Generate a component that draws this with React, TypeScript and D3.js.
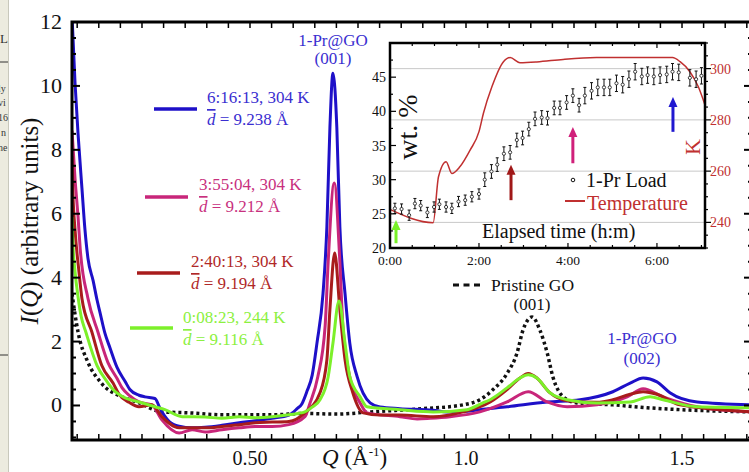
import { useEffect, useRef } from "react";
import * as d3 from "d3";

const W = 749;
const H = 472;
const FONT = "'Liberation Serif', 'Times New Roman', serif";

// main pattern, [Q (1/A), I(Q)]
const run0616 = [[0.088,12.2],[0.095,10.1],[0.102,8.5],[0.111,6.8],[0.118,5.5],[0.125,4.6],[0.137,3.9],[0.146,3.3],[0.153,2.9],[0.164,2.27],[0.176,1.8],[0.192,1.2],[0.211,0.75],[0.222,0.5],[0.243,0.32],[0.257,0.27],[0.280,0.22],[0.292,-0.1],[0.313,-0.5],[0.336,-0.65],[0.366,-0.7],[0.396,-0.68],[0.435,-0.62],[0.475,-0.54],[0.512,-0.48],[0.551,-0.4],[0.590,-0.3],[0.609,-0.1],[0.620,0.05],[0.632,0.45],[0.644,0.95],[0.655,1.95],[0.669,3.5],[0.678,5.6],[0.685,8.7],[0.692,10.4],[0.701,8.7],[0.708,5.6],[0.720,3.5],[0.731,1.95],[0.748,0.9],[0.778,0.08],[0.801,-0.05],[0.847,-0.1],[0.924,-0.15],[0.956,-0.2],[1.002,-0.18],[1.032,-0.13],[1.095,-0.04],[1.188,0.11],[1.264,0.18],[1.340,0.43],[1.380,0.7],[1.410,0.86],[1.442,0.74],[1.472,0.4],[1.535,0.11],[1.662,0.02]];
const run0355 = [[0.088,8.6],[0.095,7.1],[0.102,5.9],[0.107,4.9],[0.125,3.35],[0.148,2.3],[0.171,1.35],[0.192,0.85],[0.204,0.55],[0.222,0.3],[0.243,0.11],[0.273,0.02],[0.296,-0.45],[0.336,-0.86],[0.366,-0.76],[0.396,-0.83],[0.435,-0.76],[0.475,-0.7],[0.512,-0.66],[0.551,-0.66],[0.590,-0.6],[0.627,-0.35],[0.639,0.08],[0.657,0.9],[0.674,2.5],[0.681,4.5],[0.695,6.96],[0.708,4.5],[0.715,2.5],[0.731,0.9],[0.755,0.08],[0.771,-0.23],[0.847,-0.35],[0.887,-0.42],[0.917,-0.4],[0.963,-0.35],[1.032,-0.2],[1.095,0.11],[1.144,0.43],[1.188,0.11],[1.234,-0.04],[1.303,0.02],[1.373,0.27],[1.410,0.52],[1.456,0.27],[1.535,-0.04],[1.662,-0.2]];
const run0240 = [[0.088,7.8],[0.090,6.7],[0.095,5.5],[0.104,4.2],[0.111,3.35],[0.134,2.3],[0.157,1.25],[0.183,0.7],[0.197,0.35],[0.220,0.1],[0.243,-0.04],[0.273,0.02],[0.296,-0.35],[0.336,-0.7],[0.396,-0.7],[0.435,-0.66],[0.475,-0.6],[0.512,-0.54],[0.551,-0.52],[0.590,-0.5],[0.627,-0.23],[0.662,0.4],[0.678,1.43],[0.685,3.0],[0.696,4.77],[0.708,3.0],[0.720,1.43],[0.738,0.4],[0.762,-0.23],[0.801,-0.3],[0.847,-0.3],[0.924,-0.35],[0.993,-0.2],[1.056,0.11],[1.095,0.5],[1.125,0.86],[1.144,1.0],[1.164,0.86],[1.194,0.4],[1.234,0.15],[1.303,0.1],[1.340,0.18],[1.380,0.35],[1.410,0.43],[1.442,0.35],[1.495,0.02],[1.662,-0.2]];
const run0008 = [[0.088,5.9],[0.090,5.1],[0.095,4.2],[0.102,3.4],[0.109,2.8],[0.120,2.3],[0.146,1.25],[0.169,0.75],[0.183,0.5],[0.211,0.24],[0.243,0.11],[0.280,-0.04],[0.303,-0.13],[0.343,-0.35],[0.396,-0.36],[0.435,-0.4],[0.475,-0.35],[0.512,-0.38],[0.551,-0.35],[0.590,-0.29],[0.627,-0.2],[0.644,-0.05],[0.662,0.18],[0.681,0.9],[0.692,1.95],[0.706,3.27],[0.720,1.95],[0.731,0.9],[0.755,0.27],[0.771,-0.04],[0.847,-0.13],[0.924,-0.2],[1.002,-0.13],[1.039,0.08],[1.056,0.18],[1.095,0.55],[1.125,0.86],[1.144,0.96],[1.164,0.86],[1.194,0.4],[1.234,0.18],[1.303,0.08],[1.380,0.11],[1.426,0.27],[1.456,0.18],[1.535,-0.04],[1.662,-0.07]];
const pristineGO = [[0.088,3.5],[0.095,2.85],[0.102,2.3],[0.125,1.35],[0.153,0.75],[0.164,0.58],[0.183,0.4],[0.204,0.27],[0.243,0.08],[0.296,-0.2],[0.359,-0.23],[0.435,-0.29],[0.551,-0.29],[0.627,-0.25],[0.700,-0.27],[0.780,-0.2],[0.900,-0.1],[0.993,0.02],[1.032,0.18],[1.062,0.49],[1.095,1.0],[1.118,1.64],[1.132,2.36],[1.153,2.77],[1.171,2.36],[1.188,1.64],[1.201,0.9],[1.225,0.27],[1.257,0.08],[1.340,0.02],[1.419,-0.07],[1.495,-0.13],[1.662,-0.2]];

const runs = [
  { data: run0616, color: "#1e10c8", text: "#3a2ed0", label: "6:16:13, 304 K", d: "9.238" },
  { data: run0355, color: "#c8267a", text: "#c8307e", label: "3:55:04, 304 K", d: "9.212" },
  { data: run0240, color: "#a81c1c", text: "#b02828", label: "2:40:13, 304 K", d: "9.194" },
  { data: run0008, color: "#7cf02a", text: "#8cf040", label: "0:08:23, 244 K", d: "9.116" },
];
// legend anchor per run: [lineX1, lineX2, lineY, textX, baseline1]
const legendPos = [[154, 197, 109, 207, 103], [145, 188, 197, 199, 190], [137, 180, 273, 191, 267], [130, 173, 328, 183, 323]];

const xTickLabels = [[0.5, "0.50"], [1.0, "1.0"], [1.5, "1.5"]];
const yTickLabels = [0, 2, 4, 6, 8, 10, 12];

// inset: 1-Pr loading (h, wt.%) and temperature (h, K)
const loadTime = [0.11,0.26,0.43,0.56,0.69,0.84,0.99,1.11,1.26,1.39,1.54,1.69,1.84,2.00,2.13,2.28,2.41,2.56,2.70,2.85,2.98,3.12,3.26,3.41,3.54,3.69,3.82,3.97,4.11,4.25,4.38,4.53,4.67,4.81,4.94,5.09,5.23,5.37,5.51,5.66,5.79,5.93,6.07,6.22,6.35,6.49,6.74,6.88,7.00];
const loadWt = [25.8,25.7,24.8,26.5,26.2,25.2,26.0,26.4,26.0,25.8,26.8,27.0,27.5,27.9,30.0,31.2,32.2,33.8,34.0,35.8,36.1,37.4,38.9,39.1,39.0,40.5,40.5,41.3,42.3,40.9,42.3,43.0,43.5,43.5,43.5,44.1,43.9,44.7,45.8,45.1,45.3,45.1,45.3,45.4,45.8,45.7,44.9,44.7,45.2];
const loadErr = [0.75,0.75,0.75,0.75,0.75,0.75,0.75,0.75,0.75,0.75,0.75,0.75,0.75,0.75,1.0,1.0,1.0,1.0,1.0,1.0,1.0,1.0,1.0,1.0,1.0,1.0,1.0,1.0,1.0,1.0,1.2,1.2,1.2,1.2,1.2,1.2,1.2,1.2,1.2,1.2,1.2,1.2,1.2,1.2,1.2,1.2,1.2,1.2,1.2];
const tempTime = [0,0.97,1.09,1.26,1.39,1.57,1.80,2.00,2.10,2.29,2.55,2.70,2.92,3.30,3.89,4.64,5.77,6.35,6.52,6.74,6.93,7.08];
const tempK = [245.1,239.9,257.8,263.7,259.1,261.7,268.2,275.4,282.6,292.9,302.7,304.3,302.3,302.6,303.6,304.3,304.3,304.3,302.7,298.8,292.9,285.8];
const arrowTime = [0.135, 2.72, 4.11, 6.36];
const arrowFrom = [20.7, 27.0, 32.4, 37.0];
const arrowTo = [24.1, 32.2, 37.7, 42.1];
const arrowColor = ["#78f028", "#a01818", "#d0207a", "#2018d0"];
const insetTimeLabels = [[0, "0:00"], [2, "2:00"], [4, "4:00"], [6, "6:00"]];
const insetWtLabels = [20, 25, 30, 35, 40, 45];
const insetKLabels = [240, 260, 280, 300];

export default function App() {
  const ref = useRef(null);

  useEffect(() => {
    document.body.style.margin = "0";
    const svg = d3.select(ref.current);
    svg.selectAll("*").remove();
    svg.style("font-family", FONT);

    // cropped page strip on the left
    svg.append("rect").attr("x", 0).attr("y", 0).attr("width", 8).attr("height", H).attr("fill", "#ecebdf");
    svg.append("line").attr("x1", 8.5).attr("x2", 8.5).attr("y1", 0).attr("y2", H).attr("stroke", "#c8c8bc");
    const strip = svg.append("g").style("font-size", "10px").attr("fill", "#333");
    strip.append("text").attr("x", 0).attr("y", 43).style("font-size", "13px").text("L");
    [["ly", 92], ["vi", 106], ["16", 121], ["n", 136], ["ne", 151]].forEach(([t, yy]) => {
      strip.append("text").attr("x", t === "n" ? 1 : -2).attr("y", yy).text(t);
    });
    strip.append("line").attr("x1", 0).attr("x2", 8).attr("y1", 62).attr("y2", 62).attr("stroke", "#333");
    strip.append("line").attr("x1", 0).attr("x2", 8).attr("y1", 355).attr("y2", 355).attr("stroke", "#333");

    const x = d3.scaleLinear().domain([0.088, 1.662]).range([72, 752]);
    const y = d3.scaleLinear().domain([-1.08, 12]).range([440, 22]);

    svg.append("defs").append("clipPath").attr("id", "plot-clip")
      .append("rect").attr("x", 72).attr("y", 22).attr("width", 680).attr("height", 418);

    const plot = svg.append("g").attr("clip-path", "url(#plot-clip)");
    const line = d3.line().x(d => x(d[0])).y(d => y(d[1])).curve(d3.curveMonotoneX);

    plot.append("path").attr("d", line(pristineGO)).attr("fill", "none")
      .attr("stroke", "#111").attr("stroke-width", 3.5).attr("stroke-dasharray", "3,3");
    runs.forEach(r => {
      plot.append("path").attr("d", line(r.data)).attr("fill", "none")
        .attr("stroke", r.color).attr("stroke-width", 3).attr("stroke-linejoin", "round");
    });

    // frame and ticks
    const axes = svg.append("g").attr("stroke", "#000");
    axes.append("rect").attr("x", 72).attr("y", 22).attr("width", 680).attr("height", 418)
      .attr("fill", "none").attr("stroke-width", 3);
    x.ticks(32).forEach(q => {
      axes.append("line").attr("x1", x(q)).attr("x2", x(q)).attr("y1", 440).attr("y2", 434).attr("stroke-width", 1.5);
      axes.append("line").attr("x1", x(q)).attr("x2", x(q)).attr("y1", 22).attr("y2", 28).attr("stroke-width", 1.5);
    });
    d3.range(-1, 12.01, 0.5).forEach(v => {
      const len = v % 2 === 0 ? 8 : 4;
      axes.append("line").attr("x1", 72).attr("x2", 72 + len).attr("y1", y(v)).attr("y2", y(v)).attr("stroke-width", 2);
      axes.append("line").attr("x1", 752).attr("x2", 752 - len).attr("y1", y(v)).attr("y2", y(v)).attr("stroke-width", 2);
    });

    const labels = svg.append("g").attr("fill", "#111");
    yTickLabels.forEach(v => {
      labels.append("text").attr("x", 62).attr("y", y(v) + 7).attr("text-anchor", "end")
        .style("font-size", "22px").text(v);
    });
    xTickLabels.forEach(([q, t]) => {
      labels.append("text").attr("x", x(q)).attr("y", 465).attr("text-anchor", "middle")
        .style("font-size", "20px").text(t);
    });

    const xt = labels.append("text").attr("x", 322).attr("y", 465).style("font-size", "23px");
    xt.append("tspan").style("font-style", "italic").text("Q");
    xt.append("tspan").text(" (Å");
    xt.append("tspan").attr("dy", -9).style("font-size", "13px").text("-1");
    xt.append("tspan").attr("dy", 9).text(")");

    const yt = labels.append("text").attr("transform", "translate(38,221) rotate(-90)")
      .attr("text-anchor", "middle").style("font-size", "25px");
    yt.append("tspan").style("font-style", "italic").text("I");
    yt.append("tspan").text("(");
    yt.append("tspan").style("font-style", "italic").text("Q");
    yt.append("tspan").text(") (arbitrary units)");

    // legend for the runs
    runs.forEach((r, i) => {
      const [lx1, lx2, ly, tx, ty] = legendPos[i];
      svg.append("line").attr("x1", lx1).attr("x2", lx2).attr("y1", ly).attr("y2", ly)
        .attr("stroke", r.color).attr("stroke-width", 3.5);
      svg.append("text").attr("x", tx).attr("y", ty).attr("fill", r.text).style("font-size", "17px").text(r.label);
      const t2 = svg.append("text").attr("x", tx).attr("y", ty + 22).attr("fill", r.text).style("font-size", "17px");
      t2.append("tspan").style("font-style", "italic").style("text-decoration", "overline").text("d");
      t2.append("tspan").text(` = ${r.d} Å`);
    });

    // peak annotations
    const note = svg.append("g").style("font-size", "17px").attr("text-anchor", "middle");
    note.append("text").attr("x", 333).attr("y", 46).attr("fill", "#3a2ed0").text("1-Pr@GO");
    note.append("text").attr("x", 333).attr("y", 64).attr("fill", "#3a2ed0").text("(001)");
    note.append("text").attr("x", 642).attr("y", 344).attr("fill", "#3a2ed0").text("1-Pr@GO");
    note.append("text").attr("x", 642).attr("y", 364).attr("fill", "#3a2ed0").text("(002)");
    note.append("text").attr("x", 491).attr("y", 291).attr("text-anchor", "start").attr("fill", "#111").style("font-size", "17.5px").text("Pristine GO");
    note.append("text").attr("x", 532).attr("y", 310).attr("fill", "#111").text("(001)");
    svg.append("line").attr("x1", 453).attr("x2", 484).attr("y1", 285).attr("y2", 285)
      .attr("stroke", "#111").attr("stroke-width", 3).attr("stroke-dasharray", "6,4.5");

    // inset
    const ix = d3.scaleLinear().domain([0, 7.08]).range([390, 705]);
    const iw = d3.scaleLinear().domain([20, 50]).range([248, 43]);
    const ik = d3.scaleLinear().domain([230, 310]).range([248, 43]);
    const inset = svg.append("g");
    inset.append("rect").attr("x", 390).attr("y", 43).attr("width", 315).attr("height", 205).attr("fill", "#fff");
    insetKLabels.forEach(k => {
      inset.append("line").attr("x1", 390).attr("x2", 705).attr("y1", ik(k)).attr("y2", ik(k))
        .attr("stroke", "#c8c8c8").attr("stroke-width", 1);
    });

    const tLine = d3.line().x((d, i) => ix(tempTime[i])).y((d, i) => ik(tempK[i])).curve(d3.curveMonotoneX);
    inset.append("path").attr("d", tLine(tempTime)).attr("fill", "none").attr("stroke", "#c03030").attr("stroke-width", 1.5);

    loadTime.forEach((t, i) => {
      const cx = ix(t);
      const y1 = iw(loadWt[i] - loadErr[i]);
      const y2 = iw(loadWt[i] + loadErr[i]);
      inset.append("line").attr("x1", cx).attr("x2", cx).attr("y1", y1).attr("y2", y2).attr("stroke", "#111").attr("stroke-width", 1);
      inset.append("line").attr("x1", cx - 1.5).attr("x2", cx + 1.5).attr("y1", y1).attr("y2", y1).attr("stroke", "#111");
      inset.append("line").attr("x1", cx - 1.5).attr("x2", cx + 1.5).attr("y1", y2).attr("y2", y2).attr("stroke", "#111");
      inset.append("circle").attr("cx", cx).attr("cy", iw(loadWt[i])).attr("r", 1.6)
        .attr("fill", "#fff").attr("stroke", "#111").attr("stroke-width", 0.8);
    });

    arrowTime.forEach((t, i) => {
      const ax = ix(t);
      const yb = iw(arrowFrom[i]);
      const yt2 = iw(arrowTo[i]);
      inset.append("line").attr("x1", ax).attr("x2", ax).attr("y1", yb).attr("y2", yt2 + 9)
        .attr("stroke", arrowColor[i]).attr("stroke-width", 3);
      inset.append("path").attr("d", `M${ax - 4.5},${yt2 + 10}L${ax},${yt2}L${ax + 4.5},${yt2 + 10}Z`).attr("fill", arrowColor[i]);
    });

    // inset frame and ticks
    const iax = inset.append("g").attr("stroke", "#000");
    iax.append("rect").attr("x", 390).attr("y", 43).attr("width", 315).attr("height", 205)
      .attr("fill", "none").attr("stroke-width", 2.5);
    d3.range(0, 7.01, 0.5).forEach(t => {
      const len = t % 2 === 0 ? 5 : 3;
      iax.append("line").attr("x1", ix(t)).attr("x2", ix(t)).attr("y1", 248).attr("y2", 248 - len).attr("stroke-width", 1.2);
      iax.append("line").attr("x1", ix(t)).attr("x2", ix(t)).attr("y1", 43).attr("y2", 43 + len).attr("stroke-width", 1.2);
    });
    d3.range(20, 50.01, 2.5).forEach(v => {
      const len = v % 5 === 0 ? 6 : 3;
      iax.append("line").attr("x1", 390).attr("x2", 390 + len).attr("y1", iw(v)).attr("y2", iw(v)).attr("stroke-width", 1.2);
    });
    d3.range(230, 310.01, 5).forEach(k => {
      const len = k % 20 === 0 ? 6 : 3;
      iax.append("line").attr("x1", 705).attr("x2", 705 + len).attr("y1", ik(k)).attr("y2", ik(k)).attr("stroke-width", 1.2);
    });

    insetWtLabels.forEach(v => {
      inset.append("text").attr("x", 386).attr("y", iw(v) + 5).attr("text-anchor", "end")
        .attr("fill", "#111").style("font-size", "14px").text(v);
    });
    insetKLabels.forEach(k => {
      inset.append("text").attr("x", 710).attr("y", ik(k) + 5)
        .attr("fill", "#c03030").style("font-size", "14px").text(k);
    });
    insetTimeLabels.forEach(([t, s]) => {
      inset.append("text").attr("x", ix(t)).attr("y", 265).attr("text-anchor", "middle")
        .attr("fill", "#111").style("font-size", "13.5px").text(s);
    });

    inset.append("text").attr("transform", "translate(417,127) rotate(-90)").attr("text-anchor", "middle")
      .attr("fill", "#111").style("font-size", "28px").text("wt. %");
    inset.append("text").attr("transform", "translate(700,147) rotate(-90)").attr("text-anchor", "middle")
      .attr("fill", "#c03030").style("font-size", "22px").text("K");
    inset.append("text").attr("x", 482).attr("y", 238).attr("fill", "#111").style("font-size", "20px").text("Elapsed time (h:m)");

    inset.append("circle").attr("cx", 573).attr("cy", 180).attr("r", 1.8).attr("fill", "#fff").attr("stroke", "#111");
    inset.append("text").attr("x", 586).attr("y", 187).attr("fill", "#111").style("font-size", "20px").text("1-Pr Load");
    inset.append("line").attr("x1", 565).attr("x2", 585).attr("y1", 201).attr("y2", 201).attr("stroke", "#c03030").attr("stroke-width", 2);
    inset.append("text").attr("x", 587).attr("y", 210).attr("fill", "#c03030").style("font-size", "20px").text("Temperature");
  }, []);

  return <svg ref={ref} width={W} height={H} style={{ position: "absolute", left: 0, top: 0, background: "#fff" }}></svg>;
}
